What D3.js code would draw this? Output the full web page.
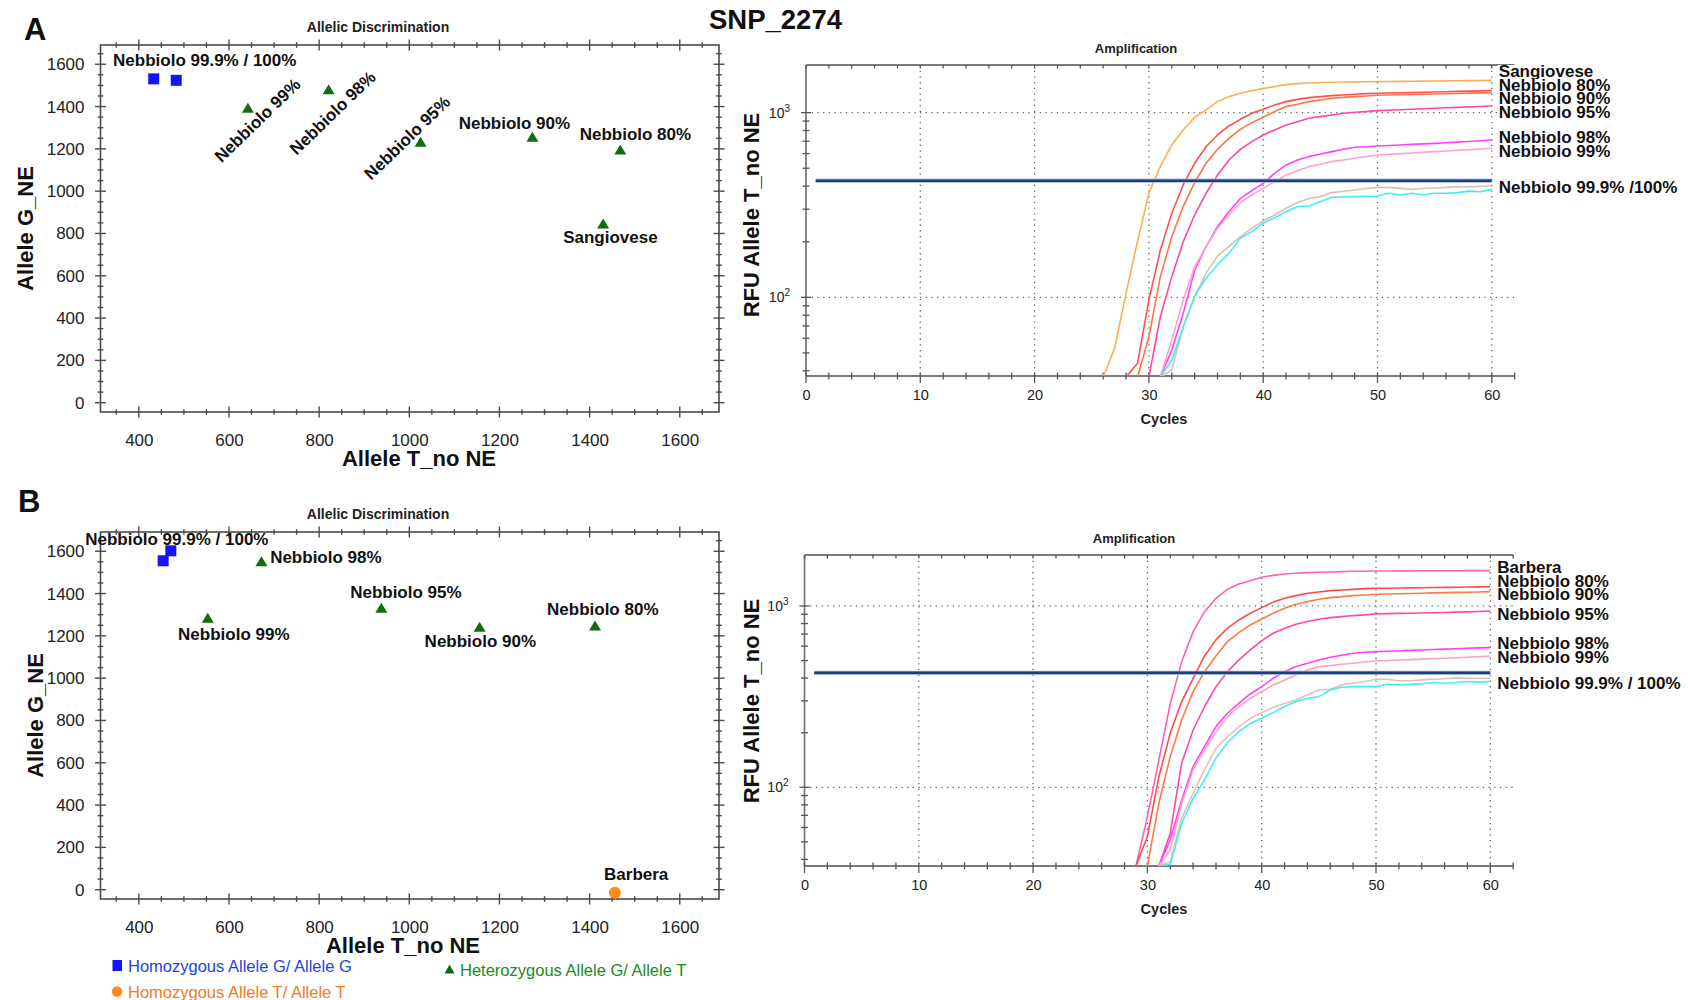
<!DOCTYPE html>
<html><head><meta charset="utf-8">
<script src="https://cdn.jsdelivr.net/npm/d3@7"></script>
<style>body{margin:0;background:#fff;} svg{display:block;}</style>
</head><body><svg id="c" width="1688" height="1000"></svg>
<script>
// ================= DATA =================
// Allelic discrimination (scatter)
const xTicksScatter = [400, 600, 800, 1000, 1200, 1400, 1600];
const yTicksScatter = [0, 200, 400, 600, 800, 1000, 1200, 1400, 1600];

const samplesA = ["Nebbiolo 99.9%", "Nebbiolo 100%", "Nebbiolo 99%", "Nebbiolo 98%", "Nebbiolo 95%", "Nebbiolo 90%", "Nebbiolo 80%", "Sangiovese"];
const alleleT_A = [433, 483, 642, 821, 1025, 1273, 1468, 1430];
const alleleG_A = [1531, 1524, 1392, 1479, 1231, 1255, 1195, 845];
const callA = ["GG", "GG", "GT", "GT", "GT", "GT", "GT", "GT"];
const pointLabelA = ["Nebbiolo 99.9% / 100%", "", "Nebbiolo 99%", "Nebbiolo 98%", "Nebbiolo 95%", "Nebbiolo 90%", "Nebbiolo 80%", "Sangiovese"];

const samplesB = ["Nebbiolo 99.9%", "Nebbiolo 100%", "Nebbiolo 98%", "Nebbiolo 99%", "Nebbiolo 95%", "Nebbiolo 90%", "Nebbiolo 80%", "Barbera"];
const alleleT_B = [454, 471, 672, 553, 938, 1156, 1412, 1456];
const alleleG_B = [1555, 1602, 1550, 1283, 1330, 1241, 1247, -14];
const callB = ["GG", "GG", "GT", "GT", "GT", "GT", "GT", "TT"];
const pointLabelB = ["Nebbiolo 99.9% / 100%", "", "Nebbiolo 98%", "Nebbiolo 99%", "Nebbiolo 95%", "Nebbiolo 90%", "Nebbiolo 80%", "Barbera"];

const legendCalls = ["GG", "TT", "GT"];
const legendTexts = ["Homozygous Allele G/ Allele G", "Homozygous Allele T/ Allele T", "Heterozygous Allele G/ Allele T"];

// Amplification (RFU per cycle, log scale)
const cycleTicks = [0, 10, 20, 30, 40, 50, 60];
const rfuDecades = [100, 1000];
const thresholdRFU = 428;

const seriesA = ["Sangiovese", "Nebbiolo 80%", "Nebbiolo 90%", "Nebbiolo 95%", "Nebbiolo 98%", "Nebbiolo 99%", "Nebbiolo 99.9%", "Nebbiolo 100%"];
const startCycleA = [26, 28, 29, 30, 31, 31, 31, 31];
const rfuA_Sangiovese = [37, 53, 105, 200, 366, 510, 668, 806, 943, 1034, 1147, 1221, 1273, 1316, 1349, 1385, 1418, 1435, 1448, 1455, 1460, 1464, 1467, 1470, 1472, 1474, 1477, 1479, 1481, 1484, 1486, 1488, 1490, 1493, 1496];
const rfuA_N80 = [37, 43.9, 96.6, 180, 285, 406, 532, 654, 757, 847, 920, 992, 1042, 1100, 1147, 1180, 1206, 1221, 1236, 1246, 1257, 1267, 1273, 1277, 1281, 1285, 1290, 1294, 1298, 1303, 1307, 1311, 1316];
const rfuA_N90 = [37, 61, 129, 213, 310, 418, 532, 633, 726, 812, 883, 943, 1015, 1078, 1110, 1147, 1170, 1196, 1210, 1221, 1231, 1241, 1246, 1250, 1254, 1258, 1262, 1266, 1270, 1275, 1279, 1284];
const rfuA_N95 = [37, 78.5, 129, 200, 279, 366, 459, 554, 633, 697, 757, 806, 858, 893, 932, 951, 971, 992, 1004, 1013, 1025, 1031, 1037, 1043, 1049, 1056, 1062, 1068, 1074, 1080, 1087];
const rfuA_N98 = [37, 51.8, 81.8, 140, 188, 241, 291, 343, 378, 414, 469, 521, 554, 578, 597, 615, 633, 649, 654, 660, 664, 668, 673, 677, 682, 687, 692, 698, 704, 711];
const rfuA_N99 = [37, 58.7, 96.6, 146, 188, 236, 279, 326, 358, 389, 423, 459, 485, 510, 525, 543, 554, 566, 578, 590, 595, 600, 605, 610, 615, 620, 625, 630, 636, 641];
const rfuA_N999 = [37, 40.4, 69.3, 101, 135, 167, 188, 213, 236, 259, 279, 303, 326, 343, 351, 369, 375, 381, 388, 394, 394, 389, 384, 388, 391, 394, 397, 397, 399, 401];
const rfuA_N100 = [37, 45.7, 69.3, 101, 127, 150, 173, 209, 227, 252, 270, 291, 310, 312, 330, 348, 349, 351, 352, 354, 366, 358, 366, 359, 366, 366, 369, 376, 373, 384];
const colorsA = ["#ffad55", "#ff4f4f", "#ff7348", "#ff47a3", "#ff40ff", "#ffa3cc", "#d8c2aa", "#40ecf5"];
const endLabelsA = ["Sangiovese", "Nebbiolo 80%", "Nebbiolo 90%", "Nebbiolo 95%", "Nebbiolo 98%", "Nebbiolo 99%", "Nebbiolo 99.9% /100%"];

const seriesB = ["Barbera", "Nebbiolo 80%", "Nebbiolo 90%", "Nebbiolo 95%", "Nebbiolo 98%", "Nebbiolo 99%", "Nebbiolo 99.9%", "Nebbiolo 100%"];
const startCycleB = [29, 29, 30, 31, 31, 31, 31, 31];
const rfuB_Barbera = [36.8, 68.9, 141, 290, 493, 722, 930, 1102, 1235, 1322, 1379, 1440, 1475, 1501, 1514, 1527, 1533, 1540, 1547, 1553, 1553, 1560, 1560, 1562, 1562, 1563, 1564, 1564, 1565, 1566, 1566, 1566];
const rfuB_N80 = [36.8, 53.5, 114, 199, 297, 399, 530, 650, 753, 837, 911, 979, 1050, 1102, 1140, 1175, 1194, 1215, 1225, 1235, 1246, 1251, 1253, 1256, 1258, 1261, 1263, 1266, 1268, 1271, 1274, 1278];
const rfuB_N90 = [36.8, 81.6, 148, 235, 337, 434, 530, 636, 713, 786, 848, 911, 971, 1021, 1057, 1088, 1112, 1126, 1140, 1150, 1160, 1164, 1168, 1172, 1176, 1180, 1184, 1188, 1191, 1195, 1199];
const rfuB_N95 = [36.8, 55.8, 136, 207, 279, 359, 434, 504, 572, 644, 707, 753, 792, 820, 844, 862, 873, 885, 893, 904, 907, 910, 912, 915, 918, 921, 925, 928, 932, 938];
const rfuB_N98 = [36.8, 51.3, 85.1, 130, 168, 216, 256, 290, 327, 359, 399, 434, 463, 483, 504, 521, 535, 548, 555, 560, 563, 566, 569, 572, 575, 578, 581, 584, 587, 589];
const rfuB_N99 = [36.8, 45.1, 81.6, 125, 161, 203, 245, 279, 310, 337, 367, 391, 416, 444, 463, 469, 477, 483, 491, 497, 500, 503, 506, 509, 512, 515, 518, 521, 525, 530];
const rfuB_N999 = [36.8, 38.9, 67.5, 92.7, 125, 164, 190, 216, 240, 258, 276, 290, 303, 323, 344, 347, 367, 375, 383, 394, 394, 387, 387, 391, 394, 397, 401, 399, 399, 399];
const rfuB_N100 = [36.8, 37.5, 63.3, 86.9, 110, 145, 176, 203, 225, 240, 258, 279, 297, 310, 316, 344, 356, 359, 359, 359, 370, 367, 370, 372, 378, 375, 378, 383, 380, 383];
const colorsB = ["#ff62b5", "#ff4a4a", "#ff7a45", "#ff48a8", "#ff40ff", "#ffa0c8", "#dcc4b0", "#40eef5"];
const endLabelsB = ["Barbera", "Nebbiolo 80%", "Nebbiolo 90%", "Nebbiolo 95%", "Nebbiolo 98%", "Nebbiolo 99%", "Nebbiolo 99.9% / 100%"];

// ================= LAYOUT / STYLE =================
const FONT = '"Liberation Sans", Arial, Helvetica, sans-serif';
const svg = d3.select("#c").style("font-family", FONT);
const callColor = {GG: "#1414ff", GT: "#0e6e0e", TT: "#ff8c1a"};
const legendColor = {GG: "#2244dd", GT: "#228a22", TT: "#f07a20"};

function marker(sel, call) {
  if (call === "GG") return sel.append("rect").attr("x", -5.5).attr("y", -5.5).attr("width", 11).attr("height", 11).attr("fill", callColor.GG);
  if (call === "TT") return sel.append("circle").attr("r", 6).attr("fill", callColor.TT);
  return sel.append("path").attr("d", "M0,-5.5L6,4.5L-6,4.5Z").attr("fill", callColor.GT);
}

function drawScatter(o) {
  const x = d3.scaleLinear([315, 1687], [o.left, o.right]);
  const y = d3.scaleLinear([-44, 1691], [o.bottom, o.top]);
  const g = svg.append("g");
  const frameColor = "#4a4a4a";
  g.append("rect").attr("x", o.left).attr("y", o.top).attr("width", o.right - o.left).attr("height", o.bottom - o.top)
    .attr("fill", "none").attr("stroke", frameColor).attr("stroke-width", 1.6);
  // crossing ticks on all four edges
  const xMinor = d3.range(350, 1687, 50), yMinor = d3.range(0, 1691, 50);
  xMinor.forEach(v => {
    const major = v % 200 === 0, a = major ? 5.5 : 2.8;
    [o.bottom, o.top].forEach(yy => g.append("line").attr("x1", x(v)).attr("x2", x(v)).attr("y1", yy - a).attr("y2", yy + a).attr("stroke", frameColor).attr("stroke-width", 1.4));
  });
  yMinor.forEach(v => {
    const major = v % 200 === 0, a = major ? 5.5 : 2.8;
    [o.left, o.right].forEach(xx => g.append("line").attr("y1", y(v)).attr("y2", y(v)).attr("x1", xx - a).attr("x2", xx + a).attr("stroke", frameColor).attr("stroke-width", 1.4));
  });
  // tick labels through d3 axes
  const ax = g.append("g").attr("transform", `translate(0,${o.bottom})`)
    .call(d3.axisBottom(x).tickValues(xTicksScatter).tickFormat(d3.format("d")).tickSize(0).tickPadding(22));
  ax.select(".domain").remove();
  ax.selectAll("text").attr("font-size", 17).attr("font-family", FONT).attr("fill", "#222");
  const ay = g.append("g").attr("transform", `translate(${o.left},0)`)
    .call(d3.axisLeft(y).tickValues(yTicksScatter).tickFormat(d3.format("d")).tickSize(0).tickPadding(16));
  ay.select(".domain").remove();
  ay.selectAll("text").attr("font-size", 17).attr("font-family", FONT).attr("fill", "#222");
  // titles
  g.append("text").attr("x", 378).attr("y", o.top - 13).attr("text-anchor", "middle").attr("font-size", 14).attr("font-weight", "bold").attr("fill", "#222").text("Allelic Discrimination");
  g.append("text").attr("x", o.xTitleX).attr("y", o.bottom + 54).attr("text-anchor", "middle").attr("font-size", 22).attr("font-weight", "bold").attr("fill", "#111").text("Allele T_no NE");
  g.append("text").attr("transform", `translate(${o.yTitleX},${(o.top + o.bottom) / 2 + 0}) rotate(-90)`).attr("text-anchor", "middle").attr("font-size", 22).attr("font-weight", "bold").attr("fill", "#111").text("Allele G_NE");
  g.append("text").attr("x", o.letterX).attr("y", o.letterY).attr("font-size", 31).attr("font-weight", "bold").attr("fill", "#111").text(o.letter);
  // points
  o.tx.forEach((t, i) => {
    const p = g.append("g").attr("transform", `translate(${x(t)},${y(o.gy[i])})`);
    marker(p, o.call[i]);
  });
  // point labels
  o.labels.forEach((lab, i) => {
    if (!lab) return;
    const px = x(o.tx[i]) + o.ldx[i], py = y(o.gy[i]) + o.ldy[i];
    g.append("text").attr("transform", `translate(${px},${py}) rotate(${o.lrot[i]})`)
      .attr("font-size", 17).attr("font-weight", "bold").attr("fill", "#111").text(lab);
  });
}

drawScatter({
  left: 100.5, right: 719, top: 45, bottom: 412, letter: "A", letterX: 24, letterY: 40,
  xTitleX: 419, yTitleX: 33,
  tx: alleleT_A, gy: alleleG_A, call: callA, labels: pointLabelA,
  ldx: [-40.6, 0, -26.5, -32, -49.5, -73.7, -40.6, -40], ldy: [-12.8, 0, 55, 66, 38.5, -8.3, -10.4, 19.5], lrot: [0, 0, -44, -44, -44, 0, 0, 0]
});
drawScatter({
  left: 100.5, right: 719, top: 532, bottom: 899, letter: "B", letterX: 18, letterY: 512,
  xTitleX: 403, yTitleX: 43,
  tx: alleleT_B, gy: alleleG_B, call: callB, labels: pointLabelB,
  ldx: [-78, 0, 8.7, -29.7, -31.2, -55, -48, -10.8], ldy: [-16, 0, 1, 21.7, -10.3, 19.8, -11, -12.7], lrot: [0, 0, 0, 0, 0, 0, 0, 0]
});

// legend
const legendPos = [[117, 965.5, 128, 971.5], [117, 991.5, 128, 997.5], [449.5, 969.5, 460, 975.5]];
legendCalls.forEach((c, i) => {
  const [mx, my, tx, ty] = legendPos[i];
  const m = svg.append("g").attr("transform", `translate(${mx},${my})`);
  if (c === "GG") m.append("rect").attr("x", -4.5).attr("y", -5.5).attr("width", 9.5).attr("height", 11).attr("fill", callColor.GG);
  else if (c === "TT") m.append("circle").attr("r", 5.2).attr("fill", callColor.TT);
  else m.append("path").attr("d", "M0,-5L5,4L-5,4Z").attr("fill", callColor.GT);
  svg.append("text").attr("x", tx).attr("y", ty).attr("font-size", 16.5).attr("fill", legendColor[c]).text(legendTexts[i]);
});

svg.append("text").attr("x", 775.5).attr("y", 29).attr("text-anchor", "middle").attr("font-size", 27.5).attr("font-weight", "bold").attr("fill", "#111").text("SNP_2274");

// ================= AMPLIFICATION =================
function drawAmp(o) {
  const x = d3.scaleLinear([0, 62], [o.x0, o.x0 + 11.43 * 62]);
  const y = d3.scaleLog([o.ymin, o.ymax], [o.bottom, o.top]);
  const right = x(62);
  const g = svg.append("g");
  const id = "clip" + o.key;
  svg.append("defs").append("clipPath").attr("id", id).append("rect")
    .attr("x", o.x0).attr("y", o.top).attr("width", right - o.x0).attr("height", o.bottom - o.top);
  // dotted grid
  cycleTicks.filter(c => c > 0).forEach(c => g.append("line").attr("x1", x(c)).attr("x2", x(c)).attr("y1", o.top).attr("y2", o.bottom)
    .attr("stroke", "#666").attr("stroke-width", 1.3).attr("stroke-dasharray", "1.3,4.4"));
  rfuDecades.forEach(v => g.append("line").attr("x1", o.x0).attr("x2", right).attr("y1", y(v)).attr("y2", y(v))
    .attr("stroke", "#666").attr("stroke-width", 1.3).attr("stroke-dasharray", "1.3,4.4"));
  // frame (left, top, bottom)
  const fc = "#7a7a7a";
  g.append("line").attr("x1", o.x0).attr("x2", o.x0).attr("y1", o.top).attr("y2", o.bottom).attr("stroke", fc).attr("stroke-width", 1.8);
  g.append("line").attr("x1", o.x0).attr("x2", right).attr("y1", o.top).attr("y2", o.top).attr("stroke", fc).attr("stroke-width", 1.8);
  g.append("line").attr("x1", o.x0).attr("x2", right).attr("y1", o.bottom).attr("y2", o.bottom).attr("stroke", fc).attr("stroke-width", 1.8);
  // x ticks every 2 cycles
  d3.range(0, 63, 2).forEach(c => {
    const major = c % 10 === 0;
    g.append("line").attr("x1", x(c)).attr("x2", x(c)).attr("y1", o.bottom - 3.5).attr("y2", o.bottom + (major ? 7 : 3.5)).attr("stroke", "#555").attr("stroke-width", 1.3);
    g.append("line").attr("x1", x(c)).attr("x2", x(c)).attr("y1", o.top).attr("y2", o.top + 3.5).attr("stroke", "#555").attr("stroke-width", 1.3);
  });
  // log minor ticks on the left
  const logTicks = [40, 50, 60, 70, 80, 90, 100, 200, 300, 400, 500, 600, 700, 800, 900, 1000];
  logTicks.forEach(v => {
    const major = v === 100 || v === 1000;
    g.append("line").attr("x1", o.x0 - (major ? 5 : 3.5)).attr("x2", o.x0 + (major ? 5 : 3.5)).attr("y1", y(v)).attr("y2", y(v)).attr("stroke", "#555").attr("stroke-width", 1.3);
  });
  // x tick labels via axis
  const ax = g.append("g").attr("transform", `translate(0,${o.bottom})`)
    .call(d3.axisBottom(x).tickValues(cycleTicks).tickSize(0).tickPadding(14));
  ax.select(".domain").remove();
  ax.selectAll("text").attr("font-size", 14.5).attr("font-family", FONT).attr("fill", "#222");
  // y tick labels 10^n
  rfuDecades.forEach(v => {
    const t = g.append("text").attr("x", o.x0 - 16).attr("y", y(v) + 5).attr("text-anchor", "end").attr("font-size", 14).attr("fill", "#222");
    t.append("tspan").text("10");
    t.append("tspan").attr("dy", -6).attr("font-size", 10).text(String(Math.round(Math.log10(v))));
  });
  // titles
  g.append("text").attr("x", o.titleX).attr("y", o.top - 12).attr("text-anchor", "middle").attr("font-size", 13).attr("font-weight", "bold").attr("fill", "#222").text("Amplification");
  g.append("text").attr("x", 1164).attr("y", o.bottom + 48).attr("text-anchor", "middle").attr("font-size", 14.5).attr("font-weight", "bold").attr("fill", "#222").text("Cycles");
  g.append("text").attr("transform", `translate(759,${o.yTitleY}) rotate(-90)`).attr("text-anchor", "middle").attr("font-size", 22).attr("font-weight", "bold").attr("fill", "#111").text("RFU Allele T_no NE");
  // curves
  const line = d3.line().x(d => x(d[0])).y(d => y(d[1]));
  const cg = g.append("g").attr("clip-path", `url(#${id})`);
  o.series.forEach((vals, i) => {
    const pts = vals.map((v, k) => [o.starts[i] + k, v]);
    cg.append("path").attr("d", line(pts)).attr("fill", "none").attr("stroke", o.colors[i]).attr("stroke-width", 1.6).attr("stroke-linejoin", "round");
  });
  // threshold
  g.append("line").attr("x1", x(0.85)).attr("x2", x(60)).attr("y1", y(thresholdRFU)).attr("y2", y(thresholdRFU))
    .attr("stroke", "#9fb4d4").attr("stroke-width", 4.2);
  g.append("line").attr("x1", x(0.85)).attr("x2", x(60)).attr("y1", y(thresholdRFU)).attr("y2", y(thresholdRFU))
    .attr("stroke", "#1d3f76").attr("stroke-width", 2.4);
  // end labels with white background
  o.endLabels.forEach((lab, i) => {
    const t = g.append("text").attr("x", x(60) + 7).attr("y", o.top + o.labelDy[i]).attr("font-size", 17).attr("font-weight", "bold").attr("fill", "#111").text(lab);
    const b = t.node().getBBox();
    g.insert("rect", () => t.node()).attr("x", b.x - 1).attr("y", b.y + 3).attr("width", b.width + 2).attr("height", b.height - 5).attr("fill", "#fff");
  });
}

drawAmp({
  key: "A", x0: 806, top: 65, bottom: 376, ymin: 37.5, ymax: 1811, titleX: 1136, yTitleY: 215,
  series: [rfuA_Sangiovese, rfuA_N80, rfuA_N90, rfuA_N95, rfuA_N98, rfuA_N99, rfuA_N999, rfuA_N100],
  starts: startCycleA, colors: colorsA, endLabels: endLabelsA,
  labelDy: [12, 26, 39, 53, 78, 92, 128]
});
drawAmp({
  key: "B", x0: 804.5, top: 555, bottom: 866, ymin: 36.8, ymax: 1910, titleX: 1134, yTitleY: 701,
  series: [rfuB_Barbera, rfuB_N80, rfuB_N90, rfuB_N95, rfuB_N98, rfuB_N99, rfuB_N999, rfuB_N100],
  starts: startCycleB, colors: colorsB, endLabels: endLabelsB,
  labelDy: [18, 32, 45, 65, 94, 108, 134]
});
</script>
</body></html>
